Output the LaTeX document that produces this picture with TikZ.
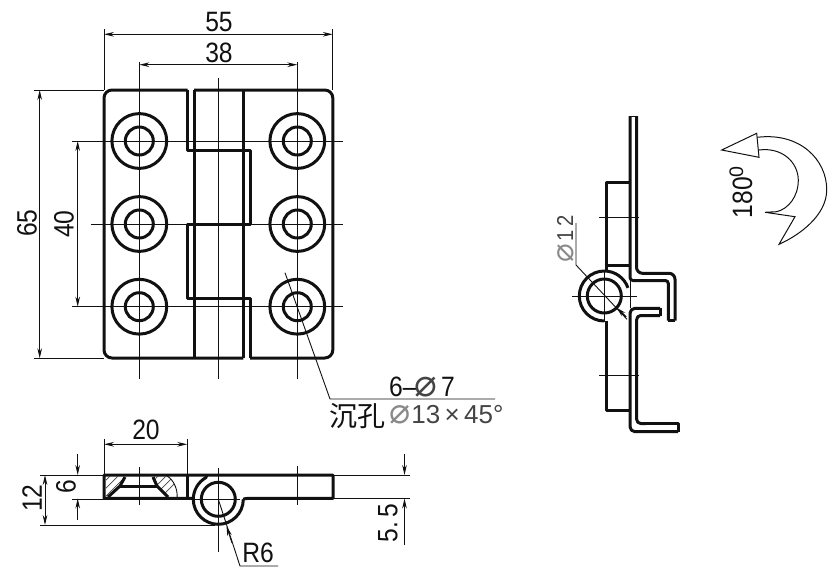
\documentclass[tikz,border=0pt]{standalone}
\usepackage{fontspec}
\setmainfont{Liberation Sans}
\newfontfamily\cjkfont{Noto Sans CJK SC}
\newfontfamily\symfont{DejaVu Sans}
\usetikzlibrary{arrows.meta}
\definecolor{inkc}{HTML}{111111}
\definecolor{dimgrey}{HTML}{444444}
\definecolor{phigrey}{HTML}{8A8A8A}
\newcommand{\dia}[1]{\smash{\textcolor{#1}{\scalebox{1.35}{\symfont\char"2300}}}}
\newcommand{\cond}[1]{\scalebox{.88}[1]{#1}}
\tikzset{
  body/.style={line width=3pt,draw=inkc,line join=round},
  fine/.style={line width=0.9pt,draw=inkc},
  hatchline/.style={line width=0.7pt,draw=dimgrey},
  tip/.style={-{Stealth[length=10pt,width=4.6pt]}},
  tips/.style={{Stealth[length=10pt,width=4.6pt]}-{Stealth[length=10pt,width=4.6pt]}},
  dimtext/.style={inner sep=0pt,font=\fontsize{28}{28}\selectfont,text=inkc},
  smalltext/.style={inner sep=0pt,font=\fontsize{26}{26}\selectfont,text=inkc},
}
\begin{document}
\begin{tikzpicture}[x=1pt,y=1pt,yscale=-1]
\useasboundingbox (0,0) rectangle (838,581);

% ---- front view: outline
\draw[body,rounded corners=8pt] (187.7,90) -- (104,90) -- (104,358) -- (243.3,358);
\draw[body,rounded corners=8pt] (194,90) -- (332.8,90) -- (332.8,358) -- (250,358);
\draw[body] (187.7,90) -- (187.7,150) -- (250,150) -- (250,224) -- (187.7,224) -- (187.7,298.7) -- (250,298.7) -- (250,358);
\draw[body] (194,90) -- (194,358);
\draw[body] (243.3,90) -- (243.3,358);
\foreach \hx in {139.3,297.3}
  \foreach \hy in {141,224,306.7}{
    \draw[body] (\hx,\hy) circle[radius=27.4];
    \draw[body] (\hx,\hy) circle[radius=14];
  }
% centre and extension lines
\draw[fine] (139.3,61.7) -- (139.3,379);
\draw[fine] (297.3,61.7) -- (297.3,379);
\draw[fine] (218.3,78.3) -- (218.3,379);
\draw[fine] (72,141) -- (343,141);
\draw[fine] (91,224) -- (343,224);
\draw[fine] (72,306.7) -- (343,306.7);
\draw[fine] (104,29.3) -- (104,90);
\draw[fine] (332.8,29.3) -- (332.8,90);
\draw[fine] (34,90) -- (104,90);
\draw[fine] (34,358.3) -- (104,358.3);
% dimensions
\draw[fine,tips] (104,34.3) -- (332.8,34.3);
\draw[fine,tips] (139.3,64.7) -- (297.3,64.7);
\draw[fine,tips] (39.7,90) -- (39.7,358.3);
\draw[fine,tips] (77.7,141) -- (77.7,306.7);
\node[dimtext] (d55) at (219,22) {\cond{55}};
\node[dimtext] (d38) at (219,53) {\cond{38}};
\node[dimtext,rotate=90] (d65) at (27,223) {\cond{65}};
\node[dimtext,rotate=90] (d40) at (64,224) {\cond{40}};
% hole note
\draw[fine] (285,272.7) -- (330,399) -- (495,399);
\node[dimtext,anchor=base] (note1) at (422,396) {\cond{6--}\hspace{-2pt}\dia{dimgrey}\hspace{4pt}\cond{7}};
\node[inner sep=0pt,anchor=base west,font=\cjkfont\fontsize{28}{28}\selectfont,text=inkc] (note2) at (329,426) {沉孔};
\node[smalltext,anchor=base west,text=dimgrey] (note3) at (389,423) {\dia{phigrey}\hspace{1pt}13\,×\,45°};

% ---- plan (bottom) view
\draw[body] (193,498.3) -- (104,498.3) -- (104,475) -- (333,475) -- (333,498.3) -- (250,498.3) .. controls (246,498.3) and (243.3,499) .. (243.3,499.3);
\draw[body] (218.3,499.3) ++(0:25) arc[start angle=0,end angle=240,radius=25] -- (207,475);
\draw[body] (218.3,499.3) circle[radius=17];
\draw[body] (187.3,475) -- (187.3,498.3);
\begin{scope}
  \clip (106,476) -- (125,476) -- (120,486) -- (108,497) -- (106,497) -- cycle;
  \foreach \k in {86,94,102,110}
    \draw[hatchline] (\k,500) -- (\k+28,472);
\end{scope}
\begin{scope}
  \clip (155,476) -- (167,476) .. controls (174,480) and (178,490) .. (177,497) -- (168,497) -- (157,486) -- cycle;
  \foreach \k in {134,142,150,158}
    \draw[hatchline] (\k,500) -- (\k+28,472);
\end{scope}
\draw[body] (125,477) -- (120,486) -- (108,497);
\draw[body] (120,486) -- (157,486);
\draw[body] (153,477) -- (157,486) -- (168,497);
\draw[fine] (167,476) .. controls (174,480) and (178,490) .. (177,498);
\draw[fine] (139.3,467) -- (139.3,505);
\draw[fine] (297.3,466) -- (297.3,505);
\draw[fine] (218.3,468) -- (218.3,552);
\draw[fine] (72,499.3) -- (240,499.3);
\draw[fine] (333,498.3) -- (410,498.3);
\draw[fine] (40,475) -- (104,475);
\draw[fine] (333,475) -- (410,475);
\draw[fine] (40,525) -- (215,525);
\draw[fine] (104,439) -- (104,475);
\draw[fine] (187.3,439) -- (187.3,475);
\draw[fine,tips] (104,444.3) -- (187.3,444.3);
\draw[fine,tips] (45,475) -- (45,525);
\draw[fine,tip] (77.7,454) -- (77.7,475);
\draw[fine,tip] (77.7,520) -- (77.7,498.5);
\draw[fine,tip] (404.5,454) -- (404.5,475);
\draw[fine,tip] (404.5,545) -- (404.5,498.5);
\draw[fine] (218.3,499.3) -- (240,566) -- (278,566);
\coordinate (r6tail) at (232,543);
\coordinate (r6tip) at (226.5,526);
\draw[fine,tip] (r6tail) -- (r6tip);
\node[dimtext] (d20) at (146,430) {\cond{20}};
\node[dimtext,rotate=90] (d12) at (32,498) {\cond{12}};
\node[dimtext,rotate=90] (d6) at (66,487) {\cond{6}};
\node[dimtext,rotate=90] (d55b) at (388,523) {\cond{5.}\hspace{4pt}\cond{5}};
\node[dimtext] (dr6) at (258,553) {\cond{R6}};

% ---- side view
\draw[body,rounded corners=6pt] (636.5,116) -- (636.5,273.3) -- (675,273.3) -- (675,320.7);
\draw[body] (675,320.7) -- (668.3,320.7);
\draw[body,rounded corners=3pt] (668.3,320.7) -- (668.3,280.5) -- (630,280.5) -- (630,116);
\draw[fine] (630,116) -- (636.5,116);
\draw[fine] (630,280) -- (630,308.3);
\draw[body,rounded corners=5pt] (660,308.3) -- (630,308.3) -- (630,431.7) -- (678,431.7);
\draw[body] (678,431.7) -- (678,423.5) -- (644,423.5);
\draw[body,rounded corners=4pt] (646,423.5) -- (636.7,423.5) -- (636.7,315.5) -- (660,315.5);
\draw[body] (660,315.5) -- (660,308.3);
\draw[body] (630,182.7) -- (606.7,182.7) -- (606.7,271);
\draw[body] (606.7,265.5) -- (630,265.5);
\draw[body] (606.7,320.7) -- (606.7,410) -- (630,410);
\draw[body] (604.3,296) ++(90:25) arc[start angle=90,end angle=341,radius=25];
\draw[body] (604.3,296) circle[radius=17];
\draw[fine] (599.3,217.7) -- (639,217.7);
\draw[fine] (599.3,375) -- (639,375);
\draw[fine] (571.7,296) -- (636.7,296);
\draw[fine] (604.3,270) -- (604.3,322);
\draw[fine] (576,223) -- (576,265) -- (627,319.3);
\coordinate (dtail) at (626,317);
\coordinate (dtip) at (617,308);
\draw[line width=1.6pt,draw=inkc,-{Stealth[length=9pt,width=5pt]}] (dtail) -- (dtip);
\node[inner sep=0pt,rotate=90,anchor=base west,font=\fontsize{23}{23}\selectfont,text=dimgrey] (dphi) at (573,263) {\dia{phigrey}\hspace{3pt}\cond{1}\hspace{3pt}\cond{2}};

% ---- turning arrow
\draw[line width=1pt,draw=inkc,line join=miter]
  (757.3,137.3) .. controls (800,132) and (827,160) .. (826.7,190)
  .. controls (826.7,215) and (800,235) .. (779,244.3)
  -- (795,216.7) -- (765,212.3) -- (776.7,211.7)
  .. controls (788,209) and (798.3,197) .. (798.3,180)
  .. controls (798,162) and (782,147) .. (759,150);
\draw[line width=1pt,draw=inkc,line join=miter] (759,157.3) -- (721.7,150) -- (756.7,133.3) -- cycle;
\node[inner sep=0pt,rotate=90,font=\fontsize{28}{28}\selectfont,text=inkc] (ang) at (741,192) {\cond{180}\textsuperscript{0}};
\end{tikzpicture}
\end{document}
